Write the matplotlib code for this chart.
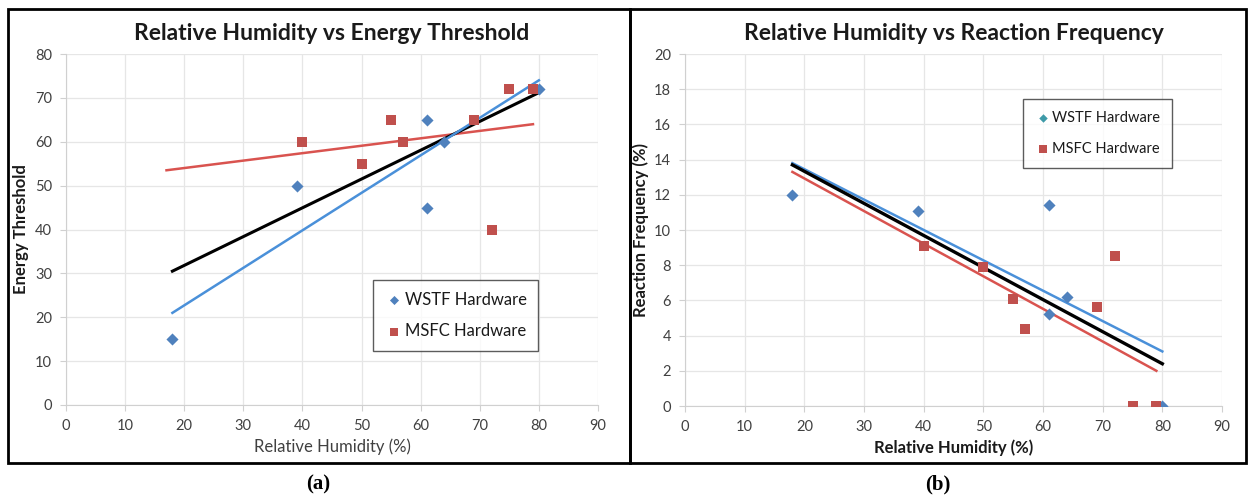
import matplotlib
matplotlib.use("Agg")
import matplotlib.pyplot as plt
from matplotlib.patches import Rectangle

plt.rcParams['font.family'] = ['Lato', 'DejaVu Sans']

# ---- data: panel (a) Energy Threshold ----
wstf_rh_a = [18, 39, 61, 61, 64, 80]
wstf_et = [15, 50, 65, 45, 60, 72]
msfc_rh_a = [40, 50, 55, 57, 69, 72, 75, 79]
msfc_et = [60, 55, 65, 60, 65, 40, 72, 72]
# trend lines (endpoints)
trend_a_wstf_x = [18, 80]
trend_a_wstf_y = [21, 74]
trend_a_msfc_x = [17, 79]
trend_a_msfc_y = [53.5, 64]
trend_a_all_x = [18, 80]
trend_a_all_y = [30.5, 71.2]

# ---- data: panel (b) Reaction Frequency ----
wstf_rh_b = [18, 39, 61, 61, 64, 80]
wstf_rf = [12.0, 11.1, 11.4, 5.2, 6.2, 0.0]
msfc_rh_b = [40, 50, 55, 57, 69, 72, 75, 79]
msfc_rf = [9.1, 7.9, 6.1, 4.4, 5.6, 8.5, 0.0, 0.0]
trend_b_wstf_x = [18, 80]
trend_b_wstf_y = [13.8, 3.1]
trend_b_msfc_x = [18, 79]
trend_b_msfc_y = [13.3, 2.0]
trend_b_all_x = [18, 80]
trend_b_all_y = [13.7, 2.4]

x_ticks = [0, 10, 20, 30, 40, 50, 60, 70, 80, 90]
y_ticks_a = [0, 10, 20, 30, 40, 50, 60, 70, 80]
y_ticks_b = [0, 2, 4, 6, 8, 10, 12, 14, 16, 18, 20]

W, H = 1250, 499
fig = plt.figure(figsize=(W / 100, H / 100), dpi=100)

BLUE_M = '#4F81BD'
RED_M = '#C0504D'
BLUE_L = '#4A90D9'
RED_L = '#D9534F'
GRID = '#E6E6E6'
TXT = '#404040'


def ax_rect(x0, x1, ybot, ytop):
    return [x0 / W, 1 - ybot / H, (x1 - x0) / W, (ybot - ytop) / H]


def style(ax, yticks, ymax):
    ax.set_xlim(0, 90)
    ax.set_ylim(0, ymax)
    ax.set_xticks(x_ticks)
    ax.set_yticks(yticks)
    ax.grid(True, color=GRID, linewidth=0.9)
    ax.set_axisbelow(True)
    for s in ['top', 'right']:
        ax.spines[s].set_visible(False)
    ax.spines['left'].set_color('#D0D0D0')
    ax.spines['bottom'].set_color('#D0D0D0')
    ax.tick_params(axis='both', colors='#D0D0D0', labelcolor=TXT,
                   labelsize=10.5, length=4)
    ax.tick_params(axis='x', pad=6)
    ax.tick_params(axis='y', pad=6)


# ---- panel (a) ----
axa = fig.add_axes(ax_rect(66, 598, 405, 54))
style(axa, y_ticks_a, 80)
axa.plot(trend_a_msfc_x, trend_a_msfc_y, color=RED_L, lw=1.8, zorder=2)
axa.plot(trend_a_all_x, trend_a_all_y, color='black', lw=2.2, zorder=2)
axa.plot(trend_a_wstf_x, trend_a_wstf_y, color=BLUE_L, lw=1.8, zorder=2)
axa.scatter(wstf_rh_a, wstf_et, marker='D', s=38, color=BLUE_M, zorder=3,
            label='WSTF Hardware', linewidths=0)
axa.scatter(msfc_rh_a, msfc_et, marker='s', s=55, color=RED_M, zorder=3,
            label='MSFC Hardware', linewidths=0)
axa.set_title('Relative Humidity vs Energy Threshold', fontsize=16.5,
              fontweight='bold', color='#1a1a1a', pad=10)
axa.set_xlabel('Relative Humidity (%)', fontsize=12, color=TXT, labelpad=4)
axa.set_ylabel('Energy Threshold', fontsize=12, fontweight='bold',
               color='#1a1a1a', labelpad=4)
lga = axa.legend(loc='upper left', bbox_to_anchor=((373 - 66) / 532, 1 - (280 - 54) / 351),
                 frameon=True, fancybox=False, edgecolor='#333333', fontsize=12,
                 handletextpad=0.1, borderpad=0.7, labelspacing=0.95,
                 markerscale=0.75, handlelength=1.1, borderaxespad=0)
lga.get_frame().set_linewidth(1.0)
for t in lga.get_texts():
    t.set_color('#1a1a1a')

# ---- panel (b) ----
axb = fig.add_axes(ax_rect(685, 1222, 406, 54))
style(axb, y_ticks_b, 20)
axb.plot(trend_b_wstf_x, trend_b_wstf_y, color=BLUE_L, lw=1.8, zorder=2)
axb.plot(trend_b_msfc_x, trend_b_msfc_y, color=RED_L, lw=1.8, zorder=2)
axb.plot(trend_b_all_x, trend_b_all_y, color='black', lw=2.4, zorder=2)
axb.scatter(wstf_rh_b, wstf_rf, marker='D', s=38, color=BLUE_M, zorder=3,
            label='WSTF Hardware', linewidths=0)
axb.scatter(msfc_rh_b, msfc_rf, marker='s', s=55, color=RED_M, zorder=3,
            label='MSFC Hardware', linewidths=0)
axb.set_title('Relative Humidity vs Reaction Frequency', fontsize=16.5,
              fontweight='bold', color='#1a1a1a', pad=10)
axb.set_xlabel('Relative Humidity (%)', fontsize=12, fontweight='bold',
               color='#1a1a1a', labelpad=4)
axb.set_ylabel('Reaction Frequency (%)', fontsize=12, fontweight='bold',
               color='#1a1a1a', labelpad=4)
lgb = axb.legend(loc='upper left', bbox_to_anchor=((1023 - 685) / 537, 1 - (99 - 54) / 352),
                 frameon=True, fancybox=False, edgecolor='#333333', fontsize=10.5,
                 handletextpad=0.1, borderpad=0.8, labelspacing=1.2,
                 markerscale=0.7, handlelength=1.1, borderaxespad=0)
lgb.get_frame().set_linewidth(1.0)
lgb.legend_handles[0].set_color('#3E9AA8')
for t in lgb.get_texts():
    t.set_color('#1a1a1a')

# ---- panel borders ----
for (x0, x1) in [(8, 630), (630, 1246)]:
    fig.add_artist(Rectangle((x0 / W, 1 - 463 / H), (x1 - x0) / W, (463 - 9) / H,
                             transform=fig.transFigure, fill=False,
                             edgecolor='black', linewidth=2))

fig.text(318 / W, 1 - 484 / H, '(a)', ha='center', va='center',
         fontsize=15, fontweight='bold', family='Liberation Serif')
fig.text(938 / W, 1 - 484 / H, '(b)', ha='center', va='center',
         fontsize=15, fontweight='bold', family='Liberation Serif')

fig.savefig('out.png', dpi=100)
